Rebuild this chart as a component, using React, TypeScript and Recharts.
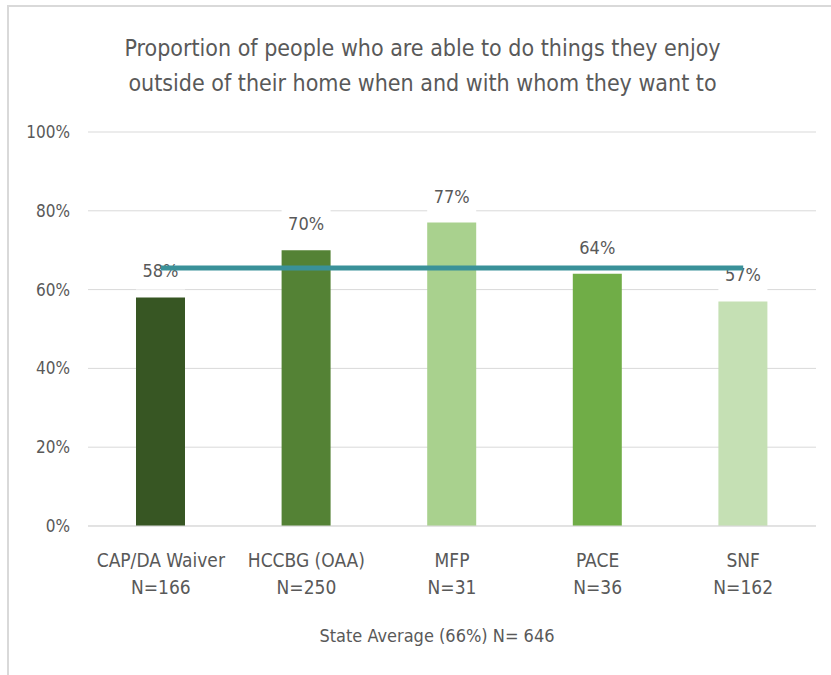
import { ComposedChart, Bar, Line, XAxis, YAxis, CartesianGrid, Cell, LabelList } from "recharts";

const programs = ["CAP/DA Waiver", "HCCBG (OAA)", "MFP", "PACE", "SNF"];
const sampleSizes = ["N=166", "N=250", "N=31", "N=36", "N=162"];
const proportions = [58, 70, 77, 64, 57];
const stateAverage = [65.5, 65.5, 65.5, 65.5, 65.5];
const yTicks = [0, 20, 40, 60, 80, 100];
const barColors = ["#375623", "#548235", "#A9D18E", "#70AD47", "#C5E0B4"];

const FONT = "'Liberation Sans Narrow', 'DejaVu Sans Condensed', 'Open Sans', sans-serif";
const TEXT = "#595959";

const data = programs.map((p, i) => ({
  name: p,
  n: sampleSizes[i],
  value: proportions[i],
  avg: stateAverage[i],
}));

function ProgramTick({ x, y, payload, index }: any) {
  return (
    <g>
      <text x={x} y={y + 33} textAnchor="middle" fill={TEXT} fontSize={19} fontFamily={FONT}>
        {payload.value}
      </text>
      <text x={x} y={y + 60} textAnchor="middle" fill={TEXT} fontSize={19} fontFamily={FONT}>
        {sampleSizes[index]}
      </text>
    </g>
  );
}

function ValueLabel({ x, y, width, value }: any) {
  return (
    <g>
      <rect x={x} y={y - 42} width={width} height={34} fill="#fff" />
      <text
        x={x + width / 2}
        y={y - 25}
        textAnchor="middle"
        dominantBaseline="middle"
        fill={TEXT}
        fontSize={18}
        fontFamily={FONT}
      >
        {value}%
      </text>
    </g>
  );
}

export default function App() {
  return (
    <div style={{ position: "absolute", left: 0, top: 0, width: 831, height: 675, background: "#fff" }}>
      <div
        style={{
          position: "absolute",
          left: 7,
          top: 5,
          width: 824,
          height: 670,
          borderLeft: "2px solid #d9d9d9",
          borderTop: "2px solid #d9d9d9",
        }}
      />
      <div
        style={{
          position: "absolute",
          left: 0,
          top: 31,
          width: 845,
          textAlign: "center",
          fontFamily: FONT,
          fontSize: 23,
          lineHeight: "35px",
          color: TEXT,
        }}
      >
        Proportion of people who are able to do things they enjoy
        <br />
        outside of their home when and with whom they want to
      </div>
      <ComposedChart
        width={831}
        height={675}
        data={data}
        margin={{ top: 132, right: 15, left: 0, bottom: 89 }}
        style={{ position: "absolute", left: 0, top: 0 }}
      >
        <CartesianGrid vertical={false} stroke="#d9d9d9" />
        <XAxis
          dataKey="name"
          height={60}
          tickLine={false}
          stroke="#d9d9d9"
          interval={0}
          tick={<ProgramTick />}
        />
        <YAxis
          width={88}
          domain={[0, 100]}
          ticks={yTicks}
          axisLine={false}
          tickLine={false}
          tickMargin={12}
          tickFormatter={(v: number) => `${v}%`}
          tick={{ fill: TEXT, fontSize: 17, fontFamily: FONT }}
        />
        <Bar dataKey="value" barSize={49} isAnimationActive={false}>
          {data.map((d, i) => (
            <Cell key={d.name} fill={barColors[i]} />
          ))}
          <LabelList dataKey="value" content={<ValueLabel />} zIndex={300} />
        </Bar>
        <Line
          dataKey="avg"
          stroke="#3A9199"
          strokeWidth={5}
          dot={false}
          activeDot={false}
          isAnimationActive={false}
          zIndex={2500}
        />
      </ComposedChart>
      <div
        style={{
          position: "absolute",
          left: 0,
          top: 625,
          width: 874,
          textAlign: "center",
          fontFamily: FONT,
          fontSize: 18,
          color: TEXT,
        }}
      >
        State Average (66%) N= 646
      </div>
    </div>
  );
}
